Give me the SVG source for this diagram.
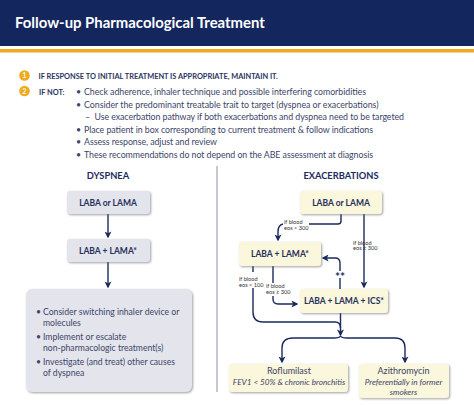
<svg xmlns="http://www.w3.org/2000/svg" width="474" height="405" viewBox="0 0 474 405">
<defs>
<filter id="sh" x="-10%" y="-15%" width="120%" height="130%"><feDropShadow dx="1" dy="1" stdDeviation="0.8" flood-color="#777" flood-opacity="0.7"/></filter>
<marker id="ah" viewBox="0 0 10 10" refX="8" refY="5" markerWidth="7" markerHeight="7" markerUnits="userSpaceOnUse" orient="auto"><path d="M0 0L10 5L0 10L2.5 5Z" fill="#1b2a5c"/></marker>
</defs>
<style>
text{font-family:Lato,"Open Sans","Liberation Sans",sans-serif;fill:#2a3560}
.b{font-weight:700}
.g{fill:#e3e4ec;filter:url(#sh)}
.y{fill:#fbf7dc;filter:url(#sh)}
.n{font-size:8.5px;font-weight:700;text-anchor:middle;fill:#26305a}
.l{font-size:8.800px;fill:#3c4468}
.m{font-size:8.650px;fill:#3c4468}
.s{font-size:5.6px;fill:#333}
.c{fill:none;stroke:#1b2a5c;stroke-width:1.4}
.h{font-size:9.3px;font-weight:700;text-anchor:middle;fill:#1b2a5c}
.t{font-size:9px;text-anchor:middle;fill:#3c4468}
.i{font-size:8.2px;font-style:italic;text-anchor:middle;fill:#3c4468}
</style>
<rect width="474" height="405" fill="#fff"/>
<g id="header">
<rect width="474" height="46" fill="#14265e"/>
<rect y="49" width="474" height="3.500" fill="#eeaa22"/>
<text x="15" y="27.500" font-size="14.900" class="b" style="fill:#fff">Follow-up Pharmacological Treatment</text>
</g>
<g id="steps">
<circle cx="24.500" cy="75.500" r="5.300" fill="#f0ab1e"/>
<text x="24.500" y="78" font-size="6.500" class="b" text-anchor="middle" style="fill:#fff">1</text>
<circle cx="24.500" cy="91" r="5.300" fill="#f0ab1e"/>
<text x="24.500" y="93.500" font-size="6.500" class="b" text-anchor="middle" style="fill:#fff">2</text>
<text x="38.500" y="79" font-size="7.400" class="b">IF RESPONSE TO INITIAL TREATMENT IS APPROPRIATE, MAINTAIN IT.</text>
<text x="39" y="94.500" font-size="7.400" class="b">IF NOT:</text>
<text class="l" x="76" y="95">•</text><text class="l" x="84" y="95" textLength="282">Check adherence, inhaler technique and possible interfering comorbidities</text>
<text class="l" x="76" y="107.500">•</text><text class="l" x="84" y="107.500" textLength="294.500">Consider the predominant treatable trait to target (dyspnea or exacerbations)</text>
<text class="l" x="85" y="120">–</text><text class="l" x="94.500" y="120" textLength="309.500">Use exacerbation pathway if both exacerbations and dyspnea need to be targeted</text>
<text class="l" x="76" y="132.500">•</text><text class="l" x="84" y="132.500" textLength="289">Place patient in box corresponding to current treatment &amp; follow indications</text>
<text class="l" x="76" y="145">•</text><text class="l" x="84" y="145" textLength="133">Assess response, adjust and review</text>
<text class="l" x="76" y="157.500">•</text><text class="l" x="84" y="157.500" textLength="289">These recommendations do not depend on the ABE assessment at diagnosis</text>
</g>
<line x1="217" y1="166" x2="217" y2="392" stroke="#8a8fa5" stroke-width="1"/>
<text class="h" x="108" y="179">DYSPNEA</text>
<text class="h" x="341" y="179">EXACERBATIONS</text>
<g id="connectors">
<path class="c" d="M108 214V237" marker-end="url(#ah)"/>
<path class="c" d="M108 262V287" marker-end="url(#ah)"/>
<path class="c" d="M341 214V221Q341 224 338 224H309"/>
<path class="c" d="M283 224Q278 225 278 232V240" marker-end="url(#ah)"/>
<path class="c" d="M364 214V287" marker-end="url(#ah)"/>
<path class="c" d="M340 271V263Q340 258 335 258H323" marker-end="url(#ah)"/>
<path class="c" d="M340 278V289"/>
<path class="c" d="M273 266V283"/>
<path class="c" d="M253 266V272"/>
<path class="c" d="M273 296V299Q273 304 278 304H297" marker-end="url(#ah)"/>
<path class="c" d="M253 288V312Q253 322 263 322H335Q340.500 322 340.500 328"/>
<path class="c" d="M340.500 313V335" marker-end="url(#ah)"/>
<path class="c" d="M340.500 336Q339.500 338 334 338H293Q282 338 282 348V362" marker-end="url(#ah)"/>
<path class="c" d="M340.500 336Q341.500 338 347 338H395Q405 338 405 348V362" marker-end="url(#ah)"/>
</g>
<text x="340" y="281" font-size="12" class="b" text-anchor="middle" style="fill:#1b2a5c">**</text>
<g id="edge-labels">
<text class="s" x="284" y="224">if blood</text><text class="s" x="284" y="229.500">eos &lt; 300</text>
<text class="s" x="353" y="244.500">if blood</text><text class="s" x="353" y="250">eos ≥ 300</text>
<text class="s" x="239" y="281">if blood</text><text class="s" x="239" y="286.500">eos &lt; 100</text>
<text class="s" x="266" y="288">if blood</text><text class="s" x="266" y="293.500">eos ≥ 300</text>
</g>
<g id="d1"><rect class="g" x="67" y="191" width="83" height="23" rx="3"/><text class="n" x="108" y="206">LABA or LAMA</text></g>
<g id="d2"><rect class="g" x="67" y="239" width="83" height="23" rx="3"/><text class="n" x="108" y="254">LABA + LAMA*</text></g>
<g id="d3"><rect class="g" x="26" y="289" width="166" height="103" rx="6"/>
<text class="m" x="36" y="315">•</text><text class="m" x="43" y="315">Consider switching inhaler device or</text>
<text class="m" x="43" y="326">molecules</text>
<text class="m" x="36" y="340">•</text><text class="m" x="43" y="340">Implement or escalate</text>
<text class="m" x="43" y="351">non-pharmacologic treatment(s)</text>
<text class="m" x="36" y="365">•</text><text class="m" x="43" y="365">Investigate (and treat) other causes</text>
<text class="m" x="43" y="376">of dyspnea</text></g>
<g id="e1"><rect class="y" x="300" y="191" width="82" height="23" rx="3"/><text class="n" x="341" y="206">LABA or LAMA</text></g>
<g id="e2"><rect class="y" x="239" y="242" width="82" height="24" rx="3"/><text class="n" x="280" y="257">LABA + LAMA*</text></g>
<g id="e3"><rect class="y" x="300" y="289" width="88" height="24" rx="3"/><text class="n" x="344" y="304">LABA + LAMA + ICS*</text></g>
<g id="e4"><rect class="y" x="229" y="364" width="119" height="28" rx="3"/>
<text class="t" x="289" y="374">Roflumilast</text>
<text class="i" x="289" y="384.500">FEV1 &lt; 50% &amp; chronic bronchitis</text></g>
<g id="e5"><rect class="y" x="359" y="364" width="90" height="34" rx="3"/>
<text class="t" x="403.500" y="374">Azithromycin</text>
<text class="i" x="403.500" y="384.500">Preferentially in former</text>
<text class="i" x="403.500" y="394.500">smokers</text></g>
</svg>
